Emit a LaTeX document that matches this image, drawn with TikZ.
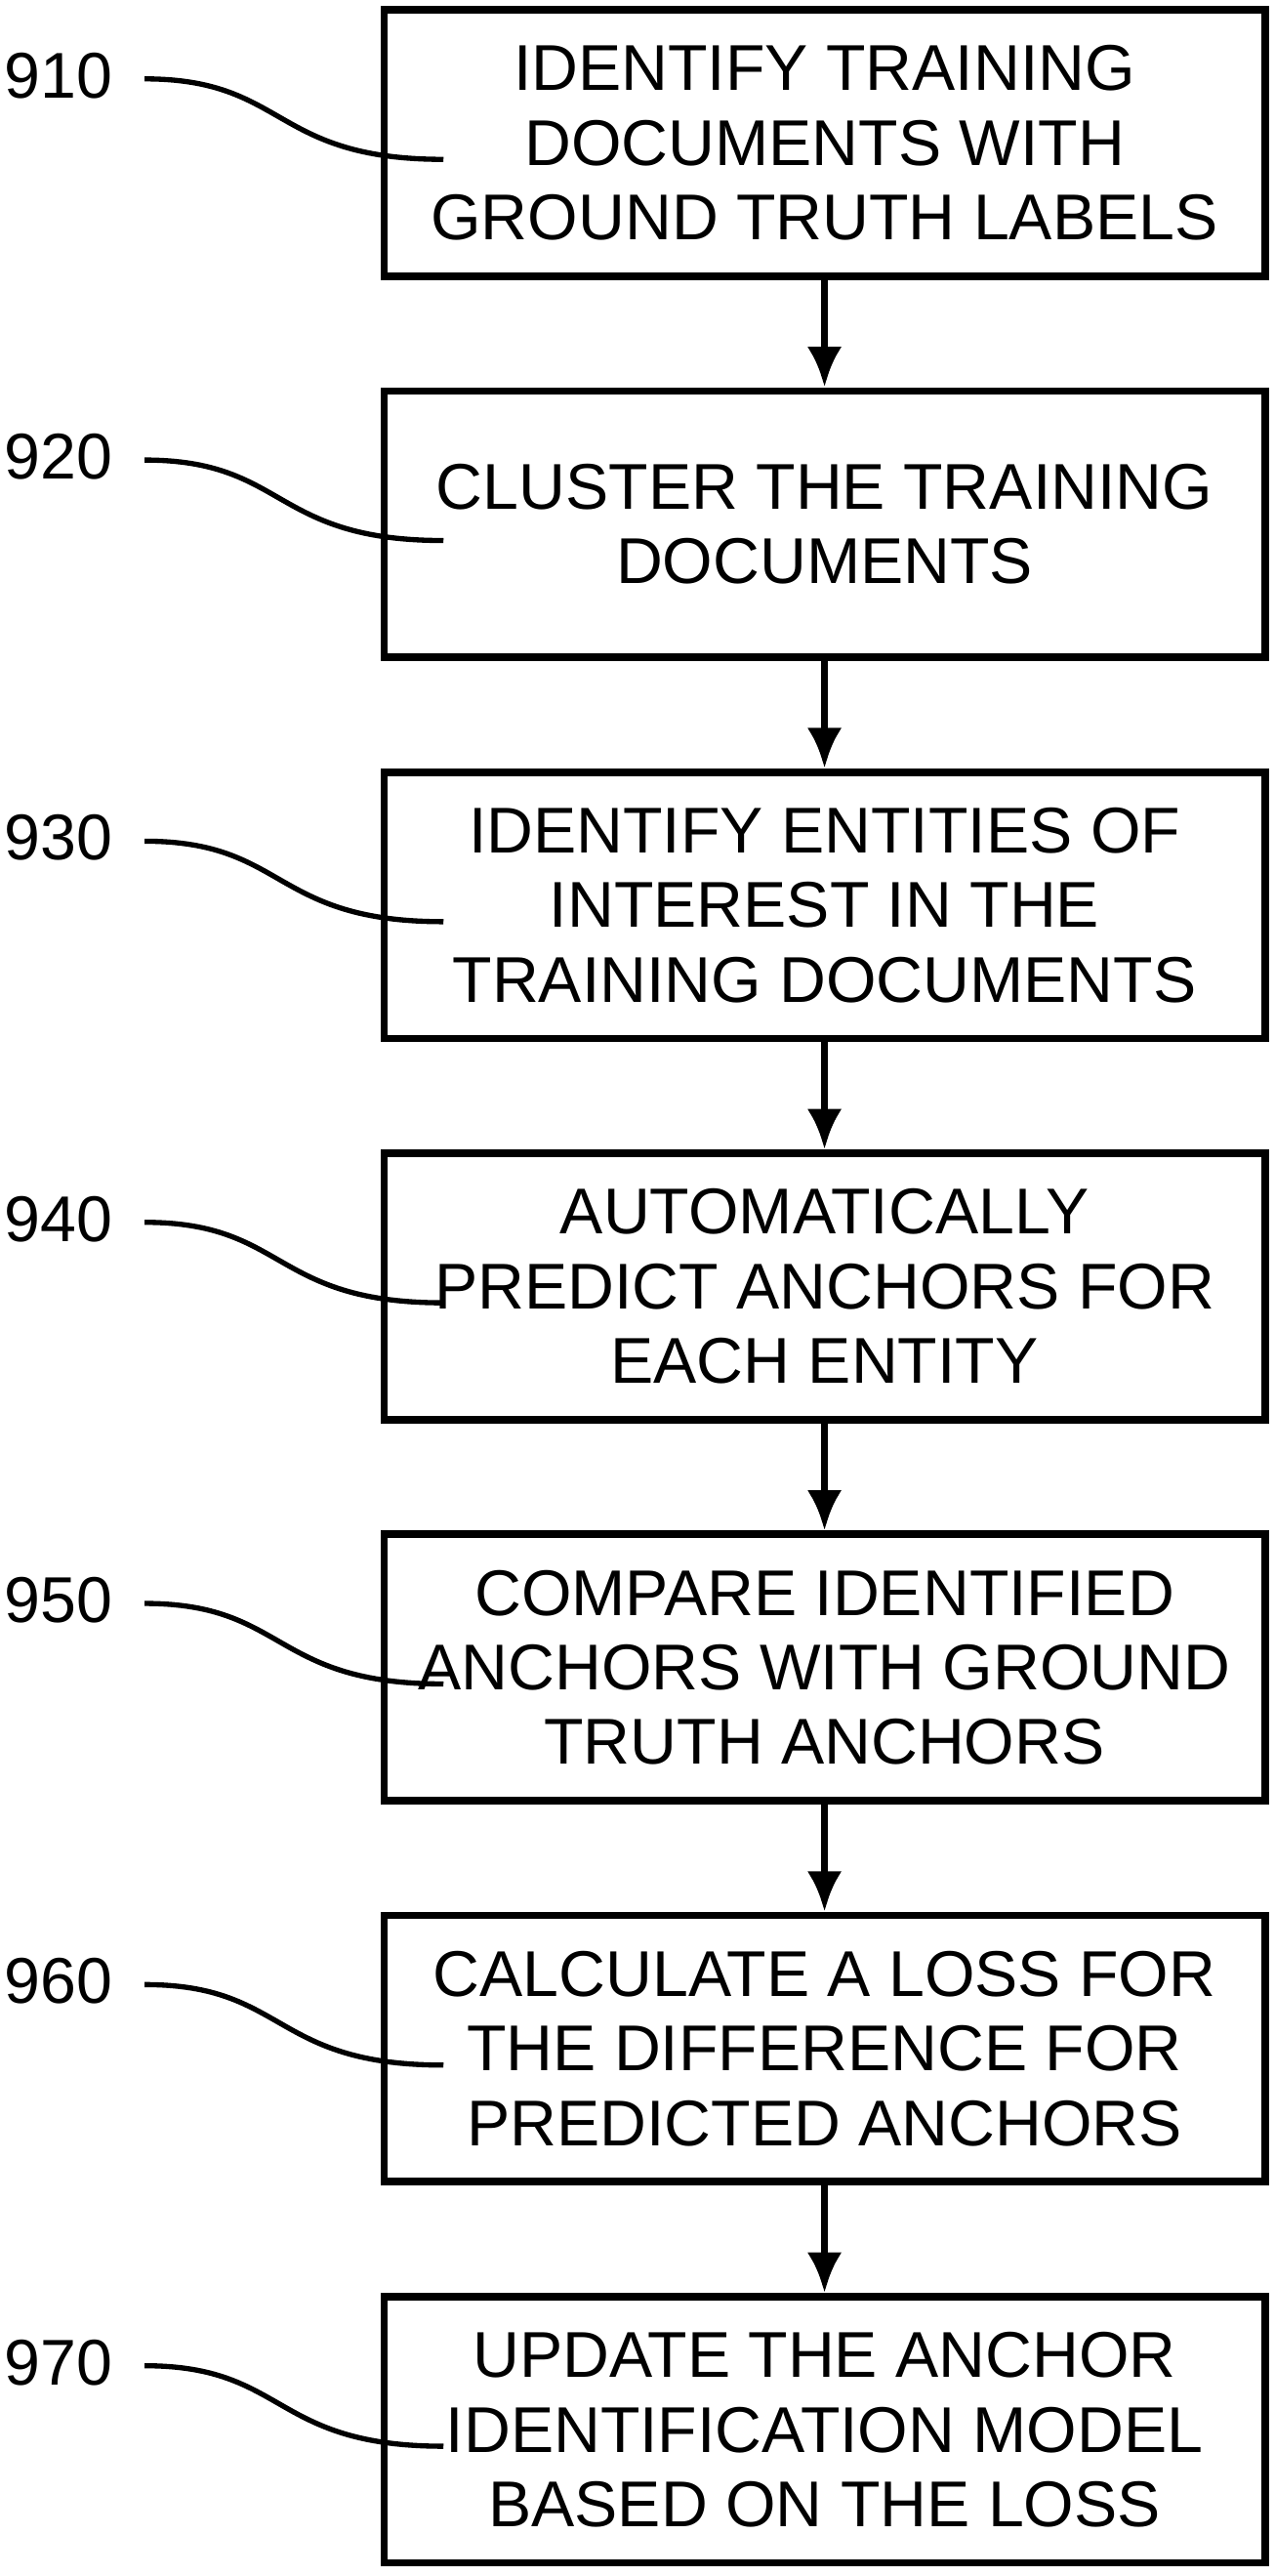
\documentclass[tikz,border=0pt]{standalone}
\usepackage{fontspec}
\setmainfont{Liberation Sans}
\usetikzlibrary{arrows.meta}
\tikzset{
  stepbox/.style={draw,line width=1.3pt,minimum width=5.36cm,minimum height=1.62cm,align=center,inner sep=0pt,font=\fontsize{11.2pt}{12.9pt}\selectfont},
  reflabel/.style={anchor=west,inner sep=0pt,font=\fontsize{11.2pt}{12.9pt}\selectfont},
  leader/.style={line width=0.9pt},
  flow/.style={line width=1.3pt,-{Latex[length=7pt,width=6pt]}}
}
\begin{document}
\begin{tikzpicture}[x=0.01cm,y=-0.01cm]
  \useasboundingbox (0,0) rectangle (776,1568);
  \foreach \i/\num/\txt in {1/910/{IDENTIFY TRAINING\\DOCUMENTS WITH\\GROUND TRUTH LABELS},
      2/920/{CLUSTER THE TRAINING\\DOCUMENTS},
      3/930/{IDENTIFY ENTITIES OF\\INTEREST IN THE\\TRAINING DOCUMENTS},
      4/940/{AUTOMATICALLY\\PREDICT ANCHORS FOR\\EACH ENTITY},
      5/950/{COMPARE IDENTIFIED\\ANCHORS WITH GROUND\\TRUTH ANCHORS},
      6/960/{CALCULATE A LOSS FOR\\THE DIFFERENCE FOR\\PREDICTED ANCHORS},
      7/970/{UPDATE THE ANCHOR\\IDENTIFICATION MODEL\\BASED ON THE LOSS}} {
    \pgfmathsetmacro{\top}{6+232*(\i-1)}
    \node[stepbox] (b\i) at (502,\top+81) {\txt};
    \node[reflabel] (l\i) at (2,\top+40) {\num};
    \coordinate (e\i) at (270,\top+91);
    \draw[leader] (88,\top+42) .. controls (175,\top+42) and (165,\top+91) .. (e\i);
  }
  \foreach \i [evaluate=\i as \j using int(\i+1)] in {1,...,6}
    \draw[flow] (b\i.south) -- (b\j.north);
\end{tikzpicture}
\end{document}
